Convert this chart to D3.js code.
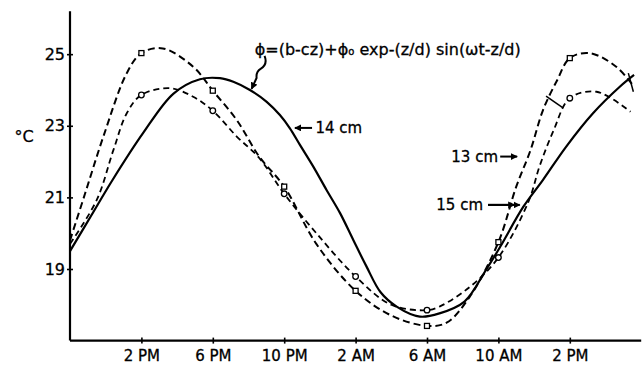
<!DOCTYPE html>
<html>
<head>
<meta charset="utf-8">
<title>Soil temperature, 13-15 cm</title>
<script src="https://cdnjs.cloudflare.com/ajax/libs/d3/7.8.5/d3.min.js"></script>
<style>
  body { margin: 0; background: #fff; }
  svg text { font-family: "DejaVu Sans", sans-serif; fill: #000; }
</style>
</head>
<body>
<div id="chart"></div>
<script>
// hours counted from 10 AM of the first day
var xTickHours = [4, 8, 12, 16, 20, 24, 28]
var xTickLabels = ["2 PM", "6 PM", "10 PM", "2 AM", "6 AM", "10 AM", "2 PM"]
var yTicks = [19, 21, 23, 25]

// 14 cm, model curve (solid)
var modelHours = [0, 1.2, 2.4, 4.1, 5.8, 7.28, 8.4, 9.15, 10.08, 11.02, 11.76, 12.32, 12.89, 13.63, 14.38, 15.13, 15.87, 16.6, 17.4, 18.3, 19.6, 20.7, 22.1, 23.3, 24.1, 25.4, 26.5, 27.8, 29.3, 30.8, 31.6]
var modelTemps = [19.5, 20.5, 21.5, 22.8, 23.9, 24.3, 24.33, 24.23, 24.0, 23.67, 23.3, 22.93, 22.46, 21.86, 21.2, 20.56, 19.81, 19.08, 18.35, 17.95, 17.67, 17.76, 18.09, 18.97, 19.62, 20.74, 21.49, 22.42, 23.35, 24.09, 24.42]

// 13 cm (squares, dashed)
var squareHours = [0, 0.84, 1.87, 3.18, 4, 5.2, 6.9, 8, 9.34, 10.6, 12, 13.8, 16, 18, 20, 21.1, 22.4, 24, 25, 25.8, 26.5, 27.3, 28, 29.1, 30.6, 31.6]
var squareTemps = [19.8, 21.1, 22.7, 24.47, 25.03, 25.16, 24.65, 23.98, 23.16, 22.14, 21.3, 19.7, 18.39, 17.7, 17.41, 17.5, 18.23, 19.75, 21.3, 22.32, 23.44, 24.28, 24.89, 25.03, 24.65, 24.09]

// 15 cm (circles, dashed)
var circleHours = [0, 1.5, 2.43, 3.18, 4, 5.6, 6.9, 8, 9.34, 10.6, 12, 13.8, 16, 18, 20, 20.7, 22.4, 24, 25.7, 26.3, 27.1, 28, 29.5, 31.4]
var circleTemps = [19.7, 20.93, 22.32, 23.35, 23.86, 24.05, 23.81, 23.42, 22.7, 22.1, 21.1, 20.0, 18.79, 18.0, 17.85, 17.95, 18.5, 19.32, 20.9, 21.86, 22.88, 23.77, 23.95, 23.39]

// observed points every 4 hours
var markHours = [4, 8, 12, 16, 20, 24, 28]
var squareMarks = [25.03, 23.98, 21.3, 18.39, 17.41, 19.75, 24.89]
var circleMarks = [23.86, 23.42, 21.1, 18.79, 17.85, 19.32, 23.77]

var width = 642, height = 367

var svg = d3.select("#chart").append("svg")
    .attr("width", width)
    .attr("height", height)

var defs = svg.append("defs")
defs.append("marker")
    .attr("id", "head")
    .attr("viewBox", "0 0 10 10")
    .attr("refX", 9).attr("refY", 5)
    .attr("markerWidth", 7).attr("markerHeight", 7)
    .attr("markerUnits", "userSpaceOnUse")
    .attr("orient", "auto")
  .append("path")
    .attr("d", "M0,0 L10,5 L0,10 Z")

var x = d3.scaleLinear().domain([0, 32]).range([70, 641.2])
var y = d3.scaleLinear().domain([17, 26.2]).range([340.6, 11.2])

function zip(hs, ts) { return hs.map(function(h, i) { return [h, ts[i]] }) }

var line = d3.line()
    .x(function(d) { return x(d[0]) })
    .y(function(d) { return y(d[1]) })
    .curve(d3.curveCatmullRom.alpha(0.5))

// axes
var xAxis = d3.axisBottom(x)
    .tickValues(xTickHours)
    .tickFormat(function(d, i) { return xTickLabels[i] })
    .tickSize(3)
    .tickPadding(7)

var yAxis = d3.axisLeft(y)
    .tickValues(yTicks)
    .tickSize(3)
    .tickPadding(2)

var gx = svg.append("g")
    .attr("transform", "translate(0," + y(17) + ")")
    .call(xAxis)
gx.select(".domain").attr("d", "M" + x(0) + ",0H" + x(32)).attr("stroke-width", 2.2)
gx.selectAll(".tick line").attr("y1", -3).attr("y2", 3).attr("stroke-width", 1.6)
gx.selectAll(".tick text").attr("font-size", 15).attr("font-family", "DejaVu Sans").attr("stroke", "#000").attr("stroke-width", 0.3)

var gy = svg.append("g")
    .attr("transform", "translate(" + x(0) + ",0)")
    .call(yAxis)
gy.select(".domain").attr("d", "M0," + y(26.2) + "V" + y(17)).attr("stroke-width", 2.2)
gy.selectAll(".tick line").attr("x1", -3).attr("x2", 3).attr("stroke-width", 1.6)
gy.selectAll(".tick text").attr("font-size", 16).attr("font-family", "DejaVu Sans").attr("stroke", "#000").attr("stroke-width", 0.3)

svg.append("text")
    .attr("x", 24).attr("y", y(22.7))
    .attr("text-anchor", "middle")
    .attr("dy", "0.35em")
    .attr("font-size", 16)
    .attr("stroke", "#000").attr("stroke-width", 0.3)
    .text("°C")

// curves
svg.append("path")
    .datum(zip(squareHours, squareTemps))
    .attr("d", line)
    .attr("fill", "none").attr("stroke", "#000")
    .attr("stroke-width", 2).attr("stroke-dasharray", "7,4")

svg.append("path")
    .datum(zip(circleHours, circleTemps))
    .attr("d", line)
    .attr("fill", "none").attr("stroke", "#000")
    .attr("stroke-width", 1.8).attr("stroke-dasharray", "6,4")

svg.append("path")
    .datum(zip(modelHours, modelTemps))
    .attr("d", line)
    .attr("fill", "none").attr("stroke", "#000")
    .attr("stroke-width", 2.2)

// markers
svg.selectAll(".sq")
    .data(zip(markHours, squareMarks))
  .enter().append("rect")
    .attr("class", "sq")
    .attr("x", function(d) { return x(d[0]) - 2.5 })
    .attr("y", function(d) { return y(d[1]) - 2.5 })
    .attr("width", 5).attr("height", 5)
    .attr("fill", "#fff").attr("stroke", "#000").attr("stroke-width", 1.3)

svg.selectAll(".ci")
    .data(zip(markHours, circleMarks))
  .enter().append("circle")
    .attr("class", "ci")
    .attr("cx", function(d) { return x(d[0]) })
    .attr("cy", function(d) { return y(d[1]) })
    .attr("r", 2.8)
    .attr("fill", "#fff").attr("stroke", "#000").attr("stroke-width", 1.3)

// small connector marks
svg.append("line")
    .attr("x1", x(26.67)).attr("y1", y(23.83))
    .attr("x2", x(27.62)).attr("y2", y(23.5))
    .attr("stroke", "#000").attr("stroke-width", 1.5)
svg.append("line")
    .attr("x1", x(31.28)).attr("y1", y(24.47))
    .attr("x2", x(31.56)).attr("y2", y(23.95))
    .attr("stroke", "#000").attr("stroke-width", 1.5)

// formula
var f = svg.append("text")
    .attr("x", x(10.35)).attr("y", y(24.98))
    .attr("font-size", 16)
    .attr("stroke", "#000").attr("stroke-width", 0.3)
f.append("tspan").text("ϕ=(b-cz)+ϕ")
f.append("tspan").attr("font-size", 10).text("o")
f.append("tspan").text(" exp-(z/d) sin(ωt-z/d)")

// squiggly pointer from the formula to the model curve
var sx = x(10.9), sy = y(24.95)
svg.append("path")
    .attr("d", "M" + sx + "," + sy +
      " C" + (sx + 2) + "," + (sy + 5) + " " + (sx + 1) + "," + (sy + 10) + " " + (sx - 4) + "," + (sy + 13) +
      " C" + (sx - 9) + "," + (sy + 16) + " " + (sx - 8) + "," + (sy + 20) + " " + (sx - 8) + "," + (sy + 22) +
      " L" + (sx - 13) + "," + (sy + 33))
    .attr("fill", "none").attr("stroke", "#000").attr("stroke-width", 2)
    .attr("marker-end", "url(#head)")

// depth labels
function arrow(h1, h2, v) {
  svg.append("line")
    .attr("x1", x(h1)).attr("y1", y(v))
    .attr("x2", x(h2)).attr("y2", y(v))
    .attr("stroke", "#000").attr("stroke-width", 2)
    .attr("marker-end", "url(#head)")
}

arrow(13.56, 12.6, 22.94)
svg.append("text")
    .attr("x", x(13.75)).attr("y", y(22.94)).attr("dy", "0.35em")
    .attr("font-size", 15).attr("stroke", "#000").attr("stroke-width", 0.3)
    .text("14 cm")

arrow(24.1, 25.05, 22.14)
svg.append("text")
    .attr("x", x(23.98)).attr("y", y(22.14)).attr("dy", "0.35em")
    .attr("text-anchor", "end")
    .attr("font-size", 15).attr("stroke", "#000").attr("stroke-width", 0.3)
    .text("13 cm")

arrow(23.42, 25.2, 20.79)
arrow(23.42, 24.9, 20.79)
svg.append("text")
    .attr("x", x(23.14)).attr("y", y(20.79)).attr("dy", "0.35em")
    .attr("text-anchor", "end")
    .attr("font-size", 15).attr("stroke", "#000").attr("stroke-width", 0.3)
    .text("15 cm")
</script>
</body>
</html>
